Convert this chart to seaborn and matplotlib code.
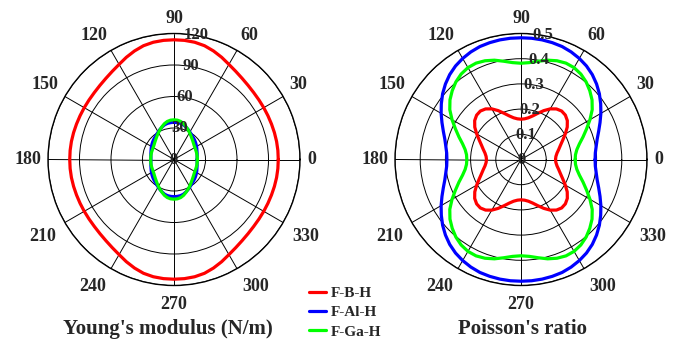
import numpy as np
import pandas as pd
import matplotlib
matplotlib.use("Agg")
import matplotlib.pyplot as plt
import matplotlib.transforms as mtransforms
import seaborn as sns
from matplotlib.lines import Line2D

# ---------------- data (first quadrant, read every 5 degrees; the curves are
# symmetric about both axes, so the other quadrants are mirrored) ----------
angles_deg = [0, 5, 10, 15, 20, 25, 30, 35, 40, 45, 50, 55, 60, 65, 70, 75, 80, 85, 90]

materials = ["F-B-H", "F-Al-H", "F-Ga-H"]
colors = ["#ff0000", "#0000ff", "#00ff00"]

# Young's modulus (N/m)
young_BH = [99.3, 99.3, 99.2, 99.0, 98.8, 98.7, 98.7, 98.8, 99.1, 99.8, 100.9,
            102.5, 104.6, 107.4, 110.0, 112.2, 113.4, 113.9, 114.0]
young_AlH = [22.0, 22.1, 22.4, 22.8, 23.3, 24.0, 24.8, 25.6, 26.4, 27.2, 28.0,
             29.0, 30.2, 31.6, 33.0, 34.3, 35.0, 35.3, 35.4]
young_GaH = [22.2, 22.2, 22.3, 22.4, 22.5, 22.6, 22.9, 23.4, 24.2, 25.2, 26.4,
             27.9, 29.6, 31.4, 33.3, 35.3, 36.8, 37.6, 37.8]

# Poisson's ratio
poisson_BH = [0.137, 0.139, 0.145, 0.155, 0.167, 0.183, 0.203, 0.224, 0.240, 0.249,
              0.251, 0.245, 0.232, 0.214, 0.195, 0.179, 0.168, 0.162, 0.160]
poisson_AlH = [0.294, 0.296, 0.303, 0.313, 0.328, 0.346, 0.366, 0.386, 0.406, 0.424,
               0.440, 0.453, 0.463, 0.471, 0.477, 0.480, 0.482, 0.483, 0.483]
poisson_GaH = [0.215, 0.217, 0.225, 0.240, 0.262, 0.287, 0.316, 0.345, 0.368, 0.386,
               0.402, 0.414, 0.421, 0.422, 0.417, 0.408, 0.396, 0.386, 0.382]

theta_ticks = [0, 30, 60, 90, 120, 150, 180, 210, 240, 270, 300, 330]
theta_labels = ["0", "30", "60", "90", "120", "150", "180", "210", "240", "270", "300", "330"]
young_rticks = [0, 30, 60, 90, 120]
young_rlabels = ["0", "30", "60", "90", "120"]
poisson_rticks = [0, 0.1, 0.2, 0.3, 0.4, 0.5]
poisson_rlabels = ["0", "0.1", "0.2", "0.3", "0.4", "0.5"]


def full_circle(q):
    a = np.array(angles_deg, dtype=float)
    r = np.array(q, dtype=float)
    th = np.concatenate([a, 180 - a[::-1][1:], 180 + a[1:], 360 - a[::-1][1:]])
    rr = np.concatenate([r, r[::-1][1:], r[1:], r[::-1][1:]])
    return np.deg2rad(th), rr


def build_df(series):
    frames = []
    for name, q in zip(materials, series):
        th, rr = full_circle(q)
        frames.append(pd.DataFrame({"theta": th, "r": rr, "material": name}))
    return pd.concat(frames, ignore_index=True)


df_young = build_df([young_BH, young_AlH, young_GaH])
df_poisson = build_df([poisson_BH, poisson_AlH, poisson_GaH])

# ---------------- style ----------------
sns.set_theme(style="white")
plt.rcParams["font.family"] = ["Liberation Serif", "DejaVu Serif"]
plt.rcParams["font.weight"] = "bold"

W, H = 691, 341
fig = plt.figure(figsize=(W / 100, H / 100), dpi=100)
fig.patch.set_facecolor("white")

R = 126  # px radius of polar frame
ax1 = fig.add_axes([(174 - R) / W, (H - 159.5 - R) / H, 2 * R / W, 2 * R / H], projection="polar")
ax2 = fig.add_axes([(521 - R) / W, (H - 159.5 - R) / H, 2 * R / W, 2 * R / H], projection="polar")

palette = dict(zip(materials, colors))


def setup(ax, df, rmax, rticks, rlabels):
    for name in materials:
        sub = df[df["material"] == name]
        sns.lineplot(data=sub, x="theta", y="r", color=palette[name], sort=False,
                     estimator=None, linewidth=2.3, ax=ax, legend=False, zorder=3)
    ax.set_ylim(0, rmax)
    ax.set_yticks([t for t in rticks if t > 0])
    ax.set_yticklabels([])
    ax.set_xticks(np.deg2rad(theta_ticks))
    ax.set_xticklabels([])
    ax.set_xlabel("")
    ax.set_ylabel("")
    ax.grid(True, color="black", linewidth=0.7)
    ax.spines["polar"].set_color("black")
    ax.spines["polar"].set_linewidth(1.0)
    ax.set_facecolor("white")
    for r, lab in zip(rticks, rlabels):
        ang = 80 if r > 0 else 90
        ax.text(np.deg2rad(ang), r, lab, ha="center", va="center", fontsize=12,
                fontweight="bold", zorder=4)
    # angular labels, placed just outside the frame
    for t, lab in zip(theta_ticks, theta_labels):
        c, s = np.cos(np.deg2rad(t)), np.sin(np.deg2rad(t))
        ha = "left" if c > 0.1 else ("right" if c < -0.1 else "center")
        va = "bottom" if s > 0.1 else ("top" if s < -0.1 else "center")
        gap = 7.5 if s < -0.1 else 5.0  # points
        tr = mtransforms.offset_copy(ax.transData, fig=fig, x=gap * c, y=gap * s,
                                     units="points")
        ax.text(np.deg2rad(t), rmax, lab, transform=tr, ha=ha, va=va, fontsize=13,
                fontweight="bold", clip_on=False)


setup(ax1, df_young, 120, young_rticks, young_rlabels)
setup(ax2, df_poisson, 0.5, poisson_rticks, poisson_rlabels)

fig.text(167.5 / W, 1 - 334 / H, "Young's modulus (N/m)", ha="center", va="baseline",
         fontsize=15, fontweight="bold")
fig.text(522.5 / W, 1 - 334 / H, "Poisson's ratio", ha="center", va="baseline",
         fontsize=15, fontweight="bold")

handles = [Line2D([0], [0], color=c, lw=2.3) for c in colors]
fig.legend(handles, materials, loc="upper left", bbox_to_anchor=(309 / W, 1 - 286.5 / H),
           frameon=False, handlelength=1.1, handletextpad=0.3,
           labelspacing=0.36, borderpad=0, borderaxespad=0,
           prop={"weight": "bold", "size": 11})

fig.savefig("out.png", dpi=100, facecolor="white")
